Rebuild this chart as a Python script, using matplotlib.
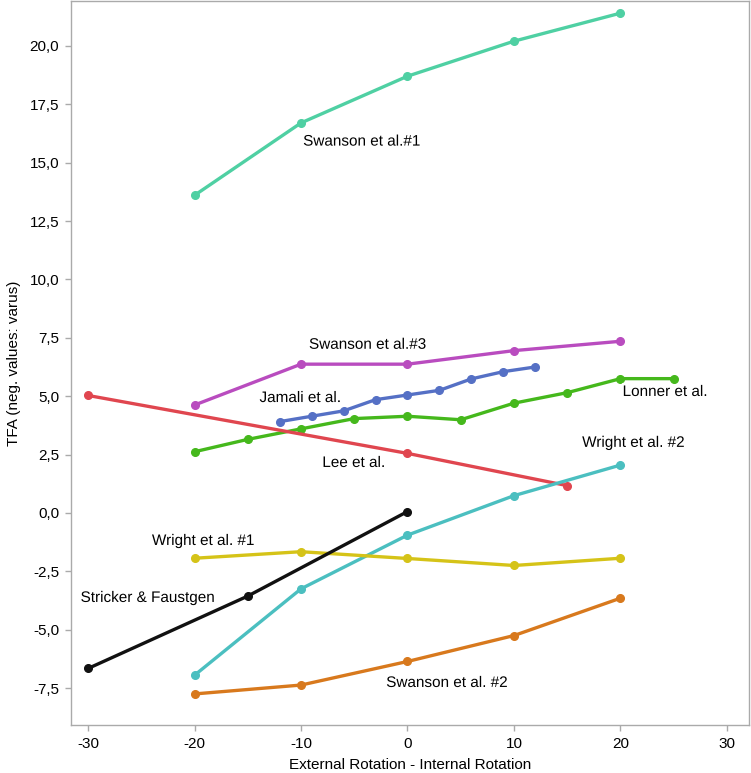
import matplotlib
matplotlib.use("Agg")
import matplotlib.pyplot as plt
import matplotlib.patheffects as pe
from matplotlib.ticker import FuncFormatter

# series values (x = ER - IR, y = TFA)
swanson1_x = [-20, -10, 0, 10, 20]
swanson1_y = [13.6, 16.7, 18.7, 20.2, 21.4]

swanson3_x = [-20, -10, 0, 10, 20]
swanson3_y = [4.62, 6.37, 6.37, 6.95, 7.35]

jamali_x = [-12, -9, -6, -3, 0, 3, 6, 9, 12]
jamali_y = [3.91, 4.14, 4.37, 4.85, 5.05, 5.25, 5.74, 6.05, 6.25]

lonner_x = [-20, -15, -10, -5, 0, 5, 10, 15, 20, 25]
lonner_y = [2.62, 3.15, 3.60, 4.04, 4.14, 3.99, 4.70, 5.15, 5.75, 5.75]

lee_x = [-30, 0, 15]
lee_y = [5.03, 2.55, 1.17]

wright2_x = [-20, -10, 0, 10, 20]
wright2_y = [-6.95, -3.25, -0.95, 0.74, 2.05]

wright1_x = [-20, -10, 0, 10, 20]
wright1_y = [-1.94, -1.66, -1.95, -2.25, -1.94]

stricker_x = [-30, -15, 0]
stricker_y = [-6.66, -3.56, 0.06]

swanson2_x = [-20, -10, 0, 10, 20]
swanson2_y = [-7.75, -7.37, -6.36, -5.25, -3.65]

x_ticks = [-30, -20, -10, 0, 10, 20, 30]
y_ticks = [-7.5, -5.0, -2.5, 0.0, 2.5, 5.0, 7.5, 10.0, 12.5, 15.0, 17.5, 20.0]

series = [
    ("Swanson et al.#1", swanson1_x, swanson1_y, "#4fd0a3", (-9.8, 15.9)),
    ("Swanson et al.#3", swanson3_x, swanson3_y, "#b94cbf", (-9.25, 7.2)),
    ("Jamali et al.", jamali_x, jamali_y, "#5570c5", (-13.9, 4.92)),
    ("Lonner et al.", lonner_x, lonner_y, "#45b81c", (20.2, 5.18)),
    ("Lee et al.", lee_x, lee_y, "#e0464f", (-8.0, 2.14)),
    ("Wright et al. #2", wright2_x, wright2_y, "#4bbfc0", (16.4, 3.0)),
    ("Wright et al. #1", wright1_x, wright1_y, "#d5c318", (-24.0, -1.2)),
    ("Stricker & Faustgen", stricker_x, stricker_y, "#111111", (-30.7, -3.64)),
    ("Swanson et al. #2", swanson2_x, swanson2_y, "#d8791d", (-2.0, -7.28)),
]

plt.rcParams["font.family"] = ["Liberation Sans", "DejaVu Sans"]

fig = plt.figure(figsize=(7.51, 7.73), dpi=100)
ax = fig.add_axes([71 / 751, 48 / 773, 678 / 751, 724 / 773])

for name, xs, ys, color, lab in series:
    ax.plot(xs, ys, color=color, lw=2.4, marker="o", ms=5.5, zorder=2)
    ax.text(lab[0], lab[1], name, fontsize=11, ha="left", va="center", zorder=3,
            path_effects=[pe.withStroke(linewidth=4, foreground="white")])

ax.set_xlim(-31.6, 32.07)
ax.set_ylim(-9.08, 21.92)
ax.set_xticks(x_ticks)
ax.set_yticks(y_ticks)
ax.xaxis.set_major_formatter(FuncFormatter(lambda v, p: f"{v:.0f}"))
ax.yaxis.set_major_formatter(FuncFormatter(lambda v, p: f"{v:.1f}".replace(".", ",")))

for s in ax.spines.values():
    s.set_color("#aaaaaa")
    s.set_linewidth(1.0)
ax.tick_params(colors="#aaaaaa", labelcolor="black", length=4.5, width=1.0,
               labelsize=11, pad=4)

ax.set_xlabel("External Rotation - Internal Rotation", fontsize=11, labelpad=5.5)
ax.set_ylabel("TFA (neg. values: varus)", fontsize=11, labelpad=6)

fig.savefig("out.png", dpi=100)
